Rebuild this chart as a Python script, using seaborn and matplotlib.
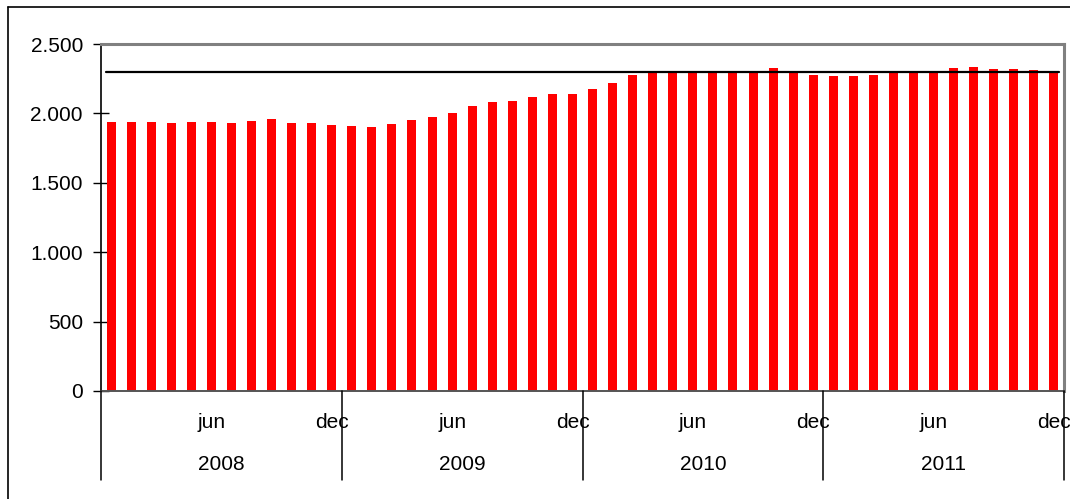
import matplotlib
matplotlib.use("Agg")
import matplotlib.pyplot as plt
import matplotlib.transforms as mtransforms
from matplotlib.lines import Line2D
from matplotlib.ticker import FuncFormatter, MultipleLocator
import numpy as np
import pandas as pd
import seaborn as sns

# Monthly values, Jan 2008 - Dec 2011
years = ["2008", "2009", "2010", "2011"]
month_labels = ["", "", "", "", "", "jun", "", "", "", "", "", "dec"]
values_2008 = [1937, 1937, 1937, 1930, 1937, 1937, 1930, 1944, 1958, 1930, 1930, 1915]
values_2009 = [1908, 1901, 1922, 1951, 1973, 2002, 2052, 2081, 2088, 2117, 2138, 2138]
values_2010 = [2174, 2218, 2275, 2300, 2300, 2305, 2300, 2300, 2300, 2326, 2300, 2275]
values_2011 = [2268, 2268, 2275, 2300, 2300, 2300, 2326, 2333, 2318, 2318, 2311, 2300]
target = 2300

values = values_2008 + values_2009 + values_2010 + values_2011
df = pd.DataFrame({
    "idx": np.arange(len(values)),
    "value": values,
})

sns.set_theme(style="white")
plt.rcParams["font.family"] = ["Liberation Sans", "DejaVu Sans"]

W, H = 1070, 499
fig = plt.figure(figsize=(W / 100, H / 100), dpi=100)
left, right, top, bottom = 101, 1064, 44, 391
ax = fig.add_axes([left / W, 1 - bottom / H, (right - left) / W, (bottom - top) / H])

sns.barplot(data=df, x="idx", y="value", color="#ff0000", saturation=1,
            width=0.45, edgecolor="none", linewidth=0, ax=ax, native_scale=True)

n = len(values)
ax.set_xlim(-0.5, n - 0.5)
ax.set_ylim(0, 2500)

# Target level
ax.plot([-0.23, n - 1 + 0.23], [target, target], color="black", lw=1.6, zorder=3)

FS = 15

# Y axis
ax.yaxis.set_major_locator(MultipleLocator(500))
ax.yaxis.set_major_formatter(FuncFormatter(lambda v, p: f"{int(v):,}".replace(",", ".")))
ax.tick_params(axis="y", direction="inout", length=12, width=1, color="black",
               labelsize=FS, labelcolor="black", pad=7, left=True)

# X axis: month labels and year groups
ax.set_xticks(np.arange(n))
ax.set_xticklabels(month_labels * len(years))
ax.tick_params(axis="x", length=0, labelsize=FS, labelcolor="black", pad=16)
ax.set_xlabel("")
ax.set_ylabel("")

blend = mtransforms.blended_transform_factory(ax.transData, ax.transAxes)
sep_bottom = -(480 - bottom) / (bottom - top)
for k in range(len(years) + 1):
    xb = k * 12 - 0.5
    ax.plot([xb, xb], [0, sep_bottom], color="black", lw=1.1,
            transform=blend, clip_on=False, zorder=4)
for k, yr in enumerate(years):
    ax.text(k * 12 + 5.5, -(464 - bottom) / (bottom - top), yr, transform=blend,
            ha="center", va="center", fontsize=FS, color="black")

# Frame
for s in ["top", "right"]:
    ax.spines[s].set_color("#808080")
    ax.spines[s].set_linewidth(2.2)
ax.spines["left"].set_color("black")
ax.spines["left"].set_linewidth(1.2)
ax.spines["bottom"].set_color("#555555")
ax.spines["bottom"].set_linewidth(1.4)

# Outer border of the chart area
fx0, fy0 = 7.5 / W, 1 - 6.5 / H
fig.lines.append(Line2D([fx0, 1.0], [fy0, fy0], transform=fig.transFigure, color="black", lw=1.2))
fig.lines.append(Line2D([fx0, fx0], [0.0, fy0], transform=fig.transFigure, color="black", lw=1.2))

fig.savefig("out.png", dpi=100)
